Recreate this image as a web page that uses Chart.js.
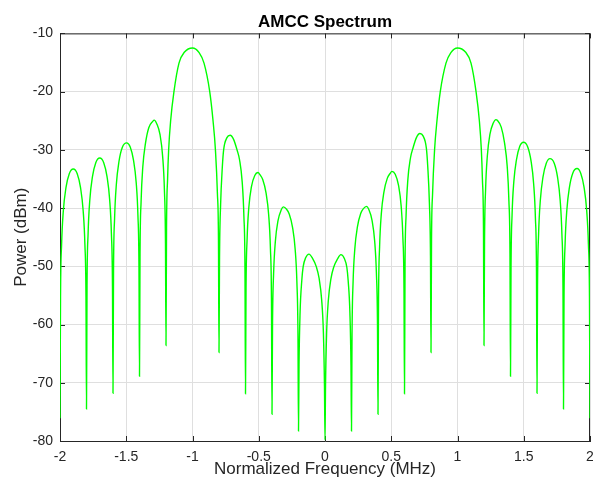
<!DOCTYPE html>
<html>
<head>
<meta charset="utf-8">
<title>AMCC Spectrum</title>
<script src="https://cdn.jsdelivr.net/npm/chart.js@4/dist/chart.umd.min.js"></script>
<style>
  html, body { margin: 0; padding: 0; background: #fff; }
  #wrap { width: 593px; height: 482px; }
</style>
</head>
<body>
<div id="wrap"><canvas id="spectrum" width="593" height="482"></canvas></div>
<script>
// spectrum trace, frequency in MHz / power in dBm
const freqMHz = [
  -2.000,
  -1.996, -1.988, -1.975, -1.955, -1.930, -1.900, -1.870, -1.845, -1.825, -1.812, -1.804,
  -1.800,
  -1.796, -1.788, -1.775, -1.755, -1.730, -1.700, -1.670, -1.645, -1.625, -1.612, -1.604,
  -1.600,
  -1.596, -1.588, -1.575, -1.555, -1.530, -1.497, -1.470, -1.445, -1.425, -1.412, -1.404,
  -1.400,
  -1.396, -1.388, -1.375, -1.355, -1.330, -1.300, -1.289, -1.270, -1.245, -1.225, -1.212, -1.204,
  -1.200,
  -1.196, -1.188, -1.180, -1.165, -1.140, -1.102, -1.060, -1.000, -0.950, -0.913, -0.870, -0.845, -0.827, -0.812, -0.804,
  -0.800,
  -0.796, -0.788, -0.775, -0.765, -0.740, -0.716, -0.690, -0.664, -0.645, -0.625, -0.612, -0.604,
  -0.600,
  -0.596, -0.588, -0.575, -0.555, -0.530, -0.506, -0.490, -0.470, -0.445, -0.425, -0.412, -0.404,
  -0.400,
  -0.396, -0.388, -0.375, -0.355, -0.330, -0.314, -0.290, -0.270, -0.245, -0.225, -0.212, -0.204,
  -0.200,
  -0.196, -0.188, -0.175, -0.165, -0.145, -0.121, -0.095, -0.065, -0.045, -0.025, -0.012, -0.004,
  0.000,
  0.004, 0.012, 0.025, 0.045, 0.065, 0.095, 0.120, 0.145, 0.165, 0.175, 0.188, 0.196,
  0.200,
  0.204, 0.212, 0.225, 0.245, 0.270, 0.290, 0.313, 0.330, 0.355, 0.375, 0.388, 0.396,
  0.400,
  0.404, 0.412, 0.425, 0.445, 0.470, 0.490, 0.505, 0.530, 0.555, 0.575, 0.588, 0.596,
  0.600,
  0.604, 0.612, 0.625, 0.645, 0.664, 0.690, 0.716, 0.740, 0.765, 0.775, 0.788, 0.796,
  0.800,
  0.804, 0.812, 0.827, 0.845, 0.870, 0.913, 0.950, 1.000, 1.060, 1.102, 1.140, 1.165, 1.180, 1.188, 1.196,
  1.200,
  1.204, 1.212, 1.225, 1.245, 1.270, 1.290, 1.300, 1.330, 1.355, 1.375, 1.388, 1.396,
  1.400,
  1.404, 1.412, 1.425, 1.445, 1.470, 1.498, 1.530, 1.555, 1.575, 1.588, 1.596,
  1.600,
  1.604, 1.612, 1.625, 1.645, 1.670, 1.698, 1.730, 1.755, 1.775, 1.788, 1.796,
  1.800,
  1.804, 1.812, 1.825, 1.845, 1.870, 1.902, 1.930, 1.955, 1.975, 1.988, 1.996,
  2.000
];

const powerDbm = [
  -76.1,
  -55.3, -46.3, -40.5, -36.5, -34.1, -33.3, -34.1, -36.5, -40.5, -46.3, -55.3,
  -74.5,
  -53.4, -44.4, -38.6, -34.6, -32.2, -31.4, -32.2, -34.6, -38.6, -44.4, -53.4,
  -71.8,
  -50.8, -41.8, -36.0, -32.0, -29.6, -28.8, -29.5, -31.8, -35.6, -41.2, -50.2,
  -68.9,
  -47.9, -38.9, -32.9, -28.9, -26.2, -25.1, -24.9, -25.5, -27.4, -31.2, -36.9, -45.9,
  -63.6,
  -43.5, -35.0, -30.0, -25.0, -20.0, -15.1, -13.2, -12.5, -13.3, -15.1, -20.0, -25.0, -30.0, -37.5, -45.5,
  -64.8,
  -48.5, -39.5, -33.0, -30.0, -27.9, -27.5, -28.2, -30.0, -31.7, -35.5, -41.5, -50.5,
  -71.9,
  -53.9, -45.4, -39.9, -36.3, -34.4, -33.9, -34.3, -35.1, -37.4, -41.2, -46.9, -55.9,
  -75.4,
  -59.8, -51.3, -45.8, -42.2, -40.3, -39.8, -40.2, -41.0, -43.3, -47.1, -52.8, -61.8,
  -78.3,
  -66.9, -57.9, -52.4, -50.1, -48.5, -47.9, -48.6, -50.1, -52.0, -55.8, -61.5, -70.5,
  -79.8,
  -70.5, -61.6, -55.9, -52.1, -50.2, -48.7, -48.0, -48.6, -50.2, -52.5, -58.0, -67.0,
  -78.3,
  -61.7, -52.7, -47.0, -43.2, -40.9, -40.1, -39.7, -40.2, -42.1, -45.7, -51.2, -59.7,
  -75.4,
  -55.7, -46.7, -41.0, -37.2, -34.9, -34.1, -33.7, -34.2, -36.1, -39.7, -45.2, -53.7,
  -71.9,
  -50.2, -41.2, -35.2, -31.4, -29.7, -27.9, -27.2, -27.6, -29.7, -32.7, -39.2, -48.2,
  -64.8,
  -45.5, -37.5, -30.0, -25.0, -20.0, -15.1, -13.3, -12.5, -13.2, -15.1, -20.0, -25.0, -30.0, -35.0, -43.5,
  -63.6,
  -45.8, -36.8, -31.1, -27.3, -25.4, -24.8, -24.9, -26.1, -28.8, -32.8, -38.8, -47.8,
  -68.9,
  -50.1, -41.1, -35.5, -31.7, -29.4, -28.7, -29.5, -31.9, -35.9, -41.7, -50.7,
  -71.8,
  -53.5, -44.5, -38.7, -34.7, -32.3, -31.5, -32.3, -34.7, -38.7, -44.5, -53.5,
  -74.5,
  -55.2, -46.2, -40.4, -36.4, -34.0, -33.2, -34.0, -36.4, -40.4, -46.2, -55.2,
  -76.1
];

const xTicks = { min: -2, max: 2, step: 0.5 };
const yTicks = { min: -80, max: -10, step: 10 };

const FONT = '"Liberation Sans", Arial, Helvetica, sans-serif';
const AXIS_COLOR = '#262626';
const GRID_COLOR = '#dfdfdf';

// top/right box edges and inward tick marks on all four sides
const axesBox = {
  id: 'axesBox',
  beforeDatasetsDraw(chart) {
    const { ctx, chartArea: a, scales: { x, y } } = chart;
    const len = 5;
    ctx.save();
    ctx.strokeStyle = AXIS_COLOR;
    ctx.lineWidth = 1;
    ctx.beginPath();
    ctx.moveTo(a.left, a.top + 0.5); ctx.lineTo(a.right, a.top + 0.5);
    ctx.moveTo(a.right - 0.5, a.top); ctx.lineTo(a.right - 0.5, a.bottom);
    x.ticks.forEach(t => {
      const px = Math.round(x.getPixelForValue(t.value)) + 0.5;
      ctx.moveTo(px, a.bottom); ctx.lineTo(px, a.bottom - len);
      ctx.moveTo(px, a.top); ctx.lineTo(px, a.top + len);
    });
    y.ticks.forEach(t => {
      const py = Math.round(y.getPixelForValue(t.value)) + 0.5;
      ctx.moveTo(a.left, py); ctx.lineTo(a.left + len, py);
      ctx.moveTo(a.right, py); ctx.lineTo(a.right - len, py);
    });
    ctx.stroke();
    ctx.restore();
  }
};

new Chart(document.getElementById('spectrum'), {
  type: 'line',
  data: {
    datasets: [{
      label: 'AMCC',
      data: freqMHz.map((f, i) => ({ x: f, y: powerDbm[i] })),
      borderColor: '#00ff00',
      borderWidth: 1.4,
      pointRadius: 0,
      cubicInterpolationMode: 'monotone',
      fill: false
    }]
  },
  options: {
    responsive: false,
    animation: false,
    devicePixelRatio: 1,
    layout: { padding: { left: 0, right: 3, top: 0, bottom: 0 } },
    plugins: {
      legend: { display: false },
      tooltip: { enabled: false },
      title: {
        display: true,
        fullSize: false,
        text: 'AMCC Spectrum',
        color: '#000',
        font: { family: FONT, size: 17, weight: 'bold' },
        padding: { top: 12, bottom: 1 }
      }
    },
    scales: {
      x: {
        type: 'linear',
        min: xTicks.min, max: xTicks.max,
        ticks: {
          stepSize: xTicks.step,
          color: AXIS_COLOR,
          font: { family: FONT, size: 14 },
          padding: 8,
          maxRotation: 0,
          callback: v => String(v)
        },
        grid: { color: GRID_COLOR, drawTicks: false },
        border: { display: true, color: AXIS_COLOR, width: 1 },
        title: {
          display: true,
          text: 'Normalized Frequency (MHz)',
          color: AXIS_COLOR,
          font: { family: FONT, size: 17 },
          padding: { top: 0, bottom: 2 }
        },
        afterFit: s => { s.height = 41; s.paddingRight = 0; s.paddingLeft = 0; }
      },
      y: {
        min: yTicks.min, max: yTicks.max,
        ticks: {
          stepSize: yTicks.step,
          color: AXIS_COLOR,
          font: { family: FONT, size: 14 },
          padding: 7
        },
        grid: { color: GRID_COLOR, drawTicks: false },
        border: { display: true, color: AXIS_COLOR, width: 1 },
        title: {
          display: true,
          text: 'Power (dBm)',
          color: AXIS_COLOR,
          font: { family: FONT, size: 17 },
          padding: { top: 11, bottom: 0 }
        },
        afterFit: s => { s.width = 60; }
      }
    }
  },
  plugins: [axesBox]
});
</script>
</body>
</html>
